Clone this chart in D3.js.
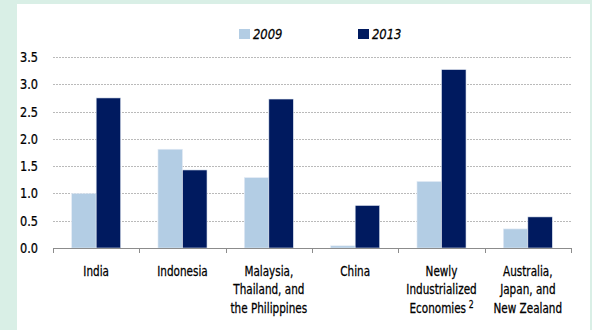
<!DOCTYPE html>
<html>
<head>
<meta charset="utf-8">
<script src="https://d3js.org/d3.v7.min.js"></script>
<style>
  body { margin: 0; padding: 0; background: #d9efe6; }
  svg { display: block; }
  text { font-family: "DejaVu Sans Condensed", "DejaVu Sans", sans-serif; font-stretch: condensed; fill: #000; stroke: #000; stroke-width: 0.25px; }
</style>
</head>
<body>
<script>
// data
var categories = [
  ["India"],
  ["Indonesia"],
  ["Malaysia,", "Thailand, and", "the Philippines"],
  ["China"],
  ["Newly", "Industrialized", "Economies"],
  ["Australia,", "Japan, and", "New Zealand"]
];
var years = ["2009", "2013"];
var values2009 = [1.00, 1.81, 1.29, 0.04, 1.22, 0.35];
var values2013 = [2.75, 1.43, 2.73, 0.78, 3.27, 0.57];
var yTicks = [0, 0.5, 1.0, 1.5, 2.0, 2.5, 3.0, 3.5];

var w = 592, h = 330;
var colors = {"2009": "#b3cde4", "2013": "#001a5f"};

var svg = d3.select("body").append("svg")
    .attr("width", w)
    .attr("height", h);

// white panel
svg.append("rect")
    .attr("x", 17).attr("y", 4)
    .attr("width", 573).attr("height", 326)
    .attr("fill", "#fff");

var plotL = 53, plotR = 571, plotT = 57, plotB = 248;

var x = d3.scaleBand()
    .domain(d3.range(categories.length))
    .range([plotL, plotR]);

var xInner = d3.scaleBand()
    .domain(years)
    .range([0, x.bandwidth()])
    .paddingOuter(0.76)
    .paddingInner(0);

var y = d3.scaleLinear()
    .domain([0, 3.5])
    .range([plotB, plotT]);

// gridlines
svg.append("g")
  .selectAll("line")
  .data(yTicks.filter(function(d) { return d > 0; }))
  .enter().append("line")
    .attr("x1", plotL).attr("x2", plotR)
    .attr("y1", function(d) { return Math.round(y(d)) + 0.5; })
    .attr("y2", function(d) { return Math.round(y(d)) + 0.5; })
    .attr("stroke", "#a8a8a8")
    .attr("stroke-width", 0.8)
    .attr("stroke-dasharray", "2,1");

// y labels (slightly squeezed to mimic the condensed face)
svg.append("g")
  .selectAll("text")
  .data(yTicks)
  .enter().append("text")
    .attr("transform", function(d) { return "translate(38," + y(d) + ") scale(0.9,1)"; })
    .attr("dy", "0.36em")
    .attr("text-anchor", "end")
    .style("font-size", "14px")
    .text(function(d) { return d.toFixed(1); });

// bars
var series = [values2009, values2013];
var groups = svg.append("g")
  .selectAll("g")
  .data(categories)
  .enter().append("g")
    .attr("transform", function(d, i) { return "translate(" + x(i) + ",0)"; });

groups.selectAll("rect")
  .data(function(d, i) {
    return years.map(function(yr, k) { return {year: yr, value: series[k][i]}; });
  })
  .enter().append("rect")
    .attr("x", function(d) { return xInner(d.year); })
    .attr("width", xInner.bandwidth())
    .attr("y", function(d) { return y(d.value); })
    .attr("height", function(d) { return plotB - y(d.value); })
    .attr("fill", function(d) { return colors[d.year]; })
    .attr("stroke", "#e4ecf5")
    .attr("stroke-width", 0.6);

// baseline and ticks
svg.append("line")
    .attr("x1", plotL).attr("x2", plotR)
    .attr("y1", plotB + 0.5).attr("y2", plotB + 0.5)
    .attr("stroke", "#8c8c8c").attr("stroke-width", 1.2);

svg.append("g")
  .selectAll("line")
  .data(d3.range(categories.length + 1))
  .enter().append("line")
    .attr("x1", function(i) { return Math.round(plotL + i * x.step()) + 0.5; })
    .attr("x2", function(i) { return Math.round(plotL + i * x.step()) + 0.5; })
    .attr("y1", plotB).attr("y2", plotB + 5)
    .attr("stroke", "#8c8c8c").attr("stroke-width", 1);

// category labels
var labels = svg.append("g")
  .selectAll("text")
  .data(categories)
  .enter().append("text")
    .attr("text-anchor", "middle")
    .style("font-size", "13.5px")
    .attr("transform", function(d, i) { return "translate(" + (x(i) + x.bandwidth() / 2) + ",276) scale(0.86,1)"; });

labels.each(function(lines, i) {
  var t = d3.select(this);
  lines.forEach(function(line, k) {
    t.append("tspan")
        .attr("x", 0)
        .attr("y", k * 18.5)
        .text(line);
  });
  if (i === 4) {
    t.append("tspan")
        .attr("dx", 3)
        .attr("dy", -5)
        .style("font-size", "10px")
        .text("2");
  }
});

// legend
var legendX = [239, 358];
var legend = svg.append("g")
  .selectAll("g")
  .data(years)
  .enter().append("g")
    .attr("transform", function(d, i) { return "translate(" + legendX[i] + ",29)"; });

legend.append("rect")
    .attr("width", 11).attr("height", 10)
    .attr("fill", function(d) { return colors[d]; });

legend.append("text")
    .attr("transform", "translate(14,10) scale(0.92,1)")
    .style("font-size", "14px")
    .style("font-style", "italic")
    .text(function(d) { return d; });
</script>
</body>
</html>
